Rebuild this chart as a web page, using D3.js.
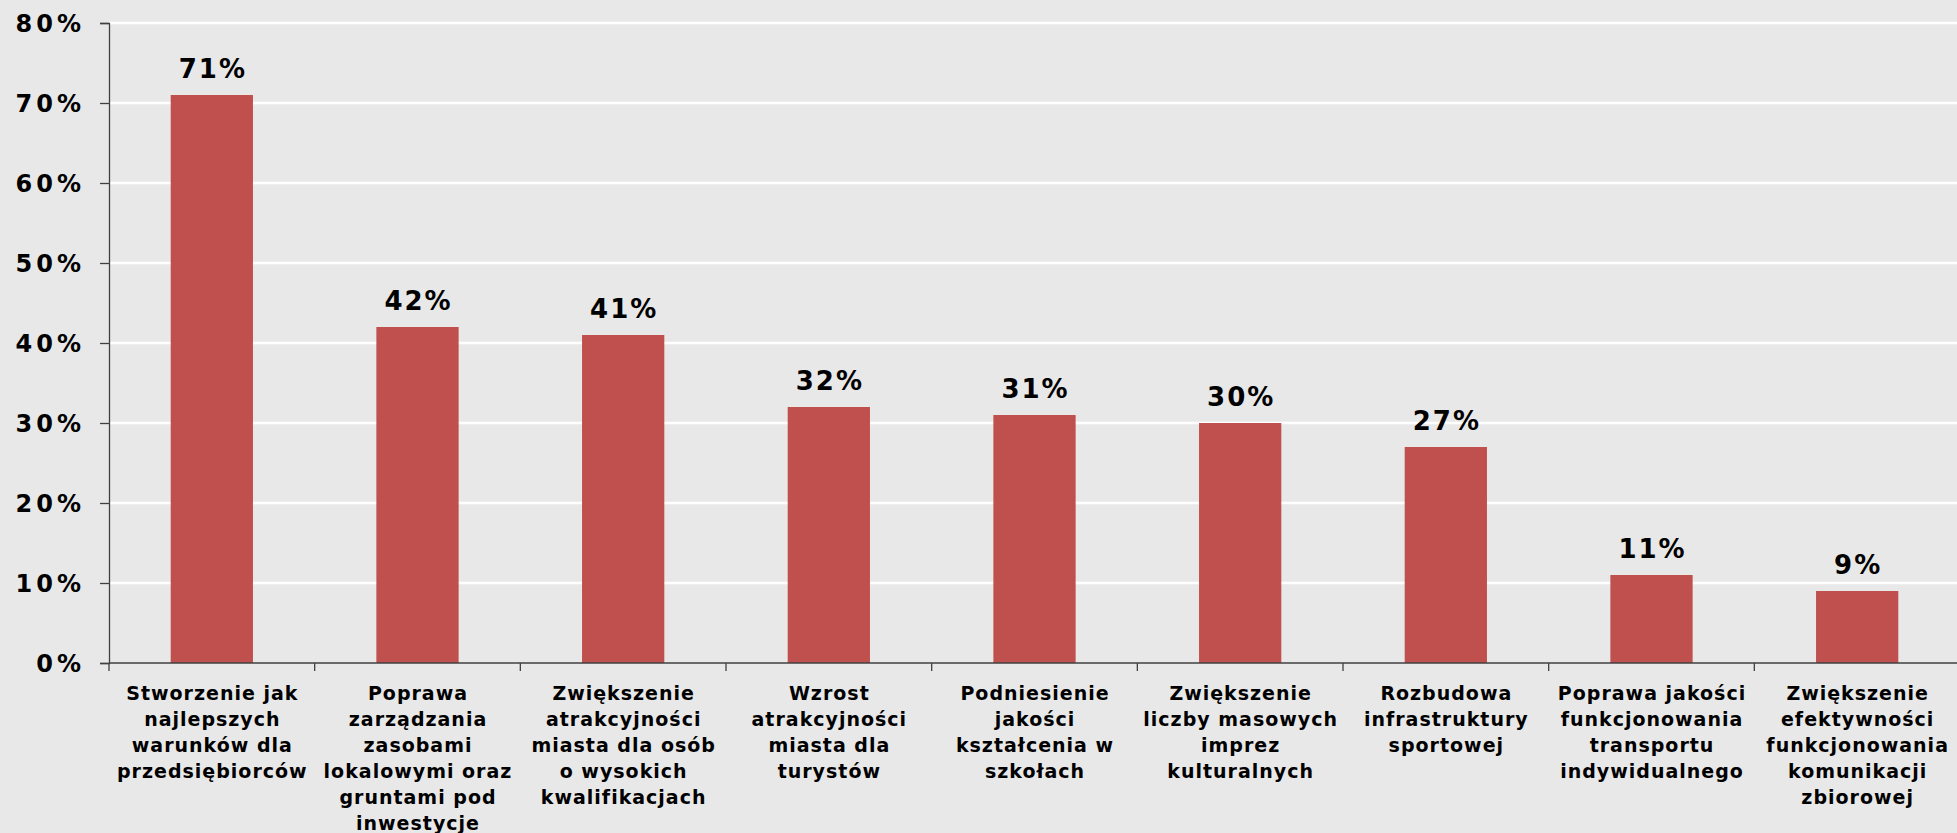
<!DOCTYPE html>
<html>
<head>
<meta charset="utf-8">
<script src="https://cdn.jsdelivr.net/npm/d3@7"></script>
<style>
  html, body { margin: 0; padding: 0; background: #E8E8E8; }
  svg { display: block; }
  text { font-family: "DejaVu Sans", Verdana, sans-serif; font-weight: bold; fill: #000; }
</style>
</head>
<body>
<svg id="chart" width="1957" height="833"></svg>
<script>
const categories = [
  ["Stworzenie jak", "najlepszych", "warunków dla", "przedsiębiorców"],
  ["Poprawa", "zarządzania", "zasobami", "lokalowymi oraz", "gruntami pod", "inwestycje"],
  ["Zwiększenie", "atrakcyjności", "miasta dla osób", "o wysokich", "kwalifikacjach"],
  ["Wzrost", "atrakcyjności", "miasta dla", "turystów"],
  ["Podniesienie", "jakości", "kształcenia w", "szkołach"],
  ["Zwiększenie", "liczby masowych", "imprez", "kulturalnych"],
  ["Rozbudowa", "infrastruktury", "sportowej"],
  ["Poprawa jakości", "funkcjonowania", "transportu", "indywidualnego"],
  ["Zwiększenie", "efektywności", "funkcjonowania", "komunikacji", "zbiorowej"]
];
const values = [71, 42, 41, 32, 31, 30, 27, 11, 9];
const yTicks = [0, 10, 20, 30, 40, 50, 60, 70, 80];

const W = 1957, H = 833;
const margin = { left: 109, top: 23, right: -3, bottom: 170 };
const svg = d3.select("#chart");
svg.append("rect").attr("width", W).attr("height", H).attr("fill", "#E8E8E8");

const ids = categories.map((c, i) => i);
const x = d3.scaleBand().domain(ids).range([margin.left, W - margin.right]).padding(0);
const y = d3.scaleLinear().domain([0, 80]).range([H - margin.bottom, margin.top]);

// gridlines
svg.append("g").selectAll("line").data(yTicks.filter(t => t > 0)).join("line")
  .attr("x1", margin.left).attr("x2", W)
  .attr("y1", d => y(d)).attr("y2", d => y(d))
  .attr("stroke", "#FFFFFF").attr("stroke-width", 2.5);

// bars
const barW = x.bandwidth() * 0.4;
svg.append("g").selectAll("rect").data(values).join("rect")
  .attr("x", (d, i) => x(i) + (x.bandwidth() - barW) / 2)
  .attr("width", barW)
  .attr("y", d => y(d))
  .attr("height", d => y(0) - y(d))
  .attr("fill", "#C0504D");

// value labels
svg.append("g").selectAll("text").data(values).join("text")
  .attr("x", (d, i) => x(i) + x.bandwidth() / 2 + 1)
  .attr("y", d => y(d) - 17)
  .attr("text-anchor", "middle")
  .style("font-size", "26px")
  .style("letter-spacing", "2px")
  .text(d => d + "%");

// y axis
const yAxis = d3.axisLeft(y).tickValues(yTicks).tickSize(9).tickPadding(15)
  .tickFormat(d => d + "%");
const gy = svg.append("g").attr("transform", `translate(${margin.left},0)`).call(yAxis);
gy.select(".domain").attr("stroke", "#404040").attr("stroke-width", 1.3);
gy.selectAll(".tick line").attr("stroke", "#404040").attr("stroke-width", 1.3);
gy.selectAll(".tick text").style("font-size", "24px").style("font-family", "'DejaVu Sans', Verdana, sans-serif")
  .style("font-weight", "bold").style("letter-spacing", "4px").attr("fill", "#000").attr("dy", "0.36em");

// x axis line and ticks at band boundaries
const gx = svg.append("g");
gx.append("line").attr("x1", margin.left).attr("x2", W)
  .attr("y1", y(0)).attr("y2", y(0)).attr("stroke", "#404040").attr("stroke-width", 1.3);
const bounds = ids.map(i => x(i));
gx.selectAll("line.tk").data(bounds).join("line").attr("class", "tk")
  .attr("x1", d => d).attr("x2", d => d)
  .attr("y1", y(0)).attr("y2", y(0) + 8)
  .attr("stroke", "#404040").attr("stroke-width", 1.3);

// category labels
const lab = svg.append("g").selectAll("text").data(categories).join("text")
  .attr("text-anchor", "middle")
  .style("font-size", "19px")
  .style("letter-spacing", "1px");
lab.each(function(lines, i) {
  const t = d3.select(this);
  lines.forEach((ln, j) => {
    t.append("tspan").attr("x", x(i) + x.bandwidth() / 2 + 0.5)
      .attr("y", y(0) + 37 + j * 26).text(ln);
  });
});
</script>
</body>
</html>
